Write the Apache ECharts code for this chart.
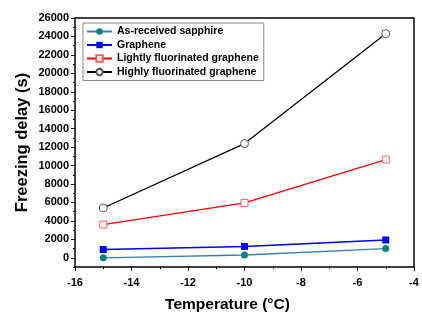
<!DOCTYPE html>
<html><head><meta charset="utf-8">
<script src="https://cdn.jsdelivr.net/npm/echarts@6/dist/echarts.min.js"></script>
<style>html,body{margin:0;padding:0;background:#fff}#c{width:422px;height:314px}</style>
</head><body><div id="c"></div>
<script>
var temperatures = [-15, -10, -5];
var sapphire = [0, 300, 1000];
var graphene = [900, 1230, 1930];
var lightlyF = [3600, 5950, 10650];
var highlyF = [5400, 12380, 24300];
var seriesNames = ['As-received sapphire', 'Graphene', 'Lightly fluorinated graphene', 'Highly fluorinated graphene'];
var yTicks = [0, 2000, 4000, 6000, 8000, 10000, 12000, 14000, 16000, 18000, 20000, 22000, 24000, 26000];
var xTicks = [-16, -14, -12, -10, -8, -6, -4];
var yMin = -1000;

function pairs(v){ return temperatures.map(function(t,i){ return [t, v[i]]; }); }
var font = 'Liberation Sans, Arial, sans-serif';
var W = 422, H = 314, gL = 75, gR = 8, gT = 18, gB = 47;
var yMax = yTicks[yTicks.length-1];
var pxPer = (H - gT - gB) / (yMax - yMin);
var gB2 = gB + (0 - yMin) * pxPer;

var chart = echarts.init(document.getElementById('c'), null, {renderer:'canvas'});
var lbl = {color:'#000',fontWeight:'bold',fontSize:11,fontFamily:font,formatter:function(v){return String(v);}};
var frame = {show:true,onZero:false,lineStyle:{color:'#000',width:1.5}};
chart.setOption({
  animation:false,
  backgroundColor:'#fff',
  grid:[
    {left:gL,right:gR,top:gT,bottom:gB,containLabel:false,outerBoundsMode:'none'},
    {left:gL,right:gR,top:gT,bottom:gB2,containLabel:false,outerBoundsMode:'none'}
  ],
  legend:{
    orient:'vertical',left:83,top:23,
    data:seriesNames,
    itemWidth:25,itemHeight:8,itemGap:2.5,
    padding:[3,5,3,3],
    borderColor:'#888',borderWidth:1,
    textStyle:{color:'#000',fontWeight:'bold',fontSize:10.5,fontFamily:font}
  },
  xAxis:[{
    gridIndex:0,type:'value',min:xTicks[0],max:xTicks[xTicks.length-1],interval:2,
    axisLine:frame,
    axisTick:{show:true,inside:false,length:4,lineStyle:{color:'#000',width:1}},
    minorTick:{show:true,splitNumber:2,length:2,lineStyle:{color:'#000',width:1}},
    splitLine:{show:false},
    axisLabel:Object.assign({},lbl,{margin:10}),
    name:'Temperature (°C)',nameLocation:'middle',nameGap:30,
    nameTextStyle:{color:'#000',fontWeight:'bold',fontSize:15.5,fontFamily:font,padding:[0,34,0,0]}
  },{
    gridIndex:0,type:'value',position:'top',min:-16,max:-4,
    axisLine:frame,axisTick:{show:false},axisLabel:{show:false},splitLine:{show:false}
  },{
    gridIndex:1,type:'value',min:-16,max:-4,show:false
  }],
  yAxis:[{
    gridIndex:0,type:'value',min:yMin,max:yMax,interval:1000,
    axisLine:frame,
    axisTick:{show:true,inside:false,length:2,lineStyle:{color:'#000',width:1}},
    axisLabel:{show:false},splitLine:{show:false},
    name:'Freezing delay (s)',nameLocation:'middle',nameGap:44,
    nameTextStyle:{color:'#000',fontWeight:'bold',fontSize:16.5,fontFamily:font}
  },{
    gridIndex:0,type:'value',position:'right',min:yMin,max:yMax,
    axisLine:frame,axisTick:{show:false},axisLabel:{show:false},splitLine:{show:false}
  },{
    gridIndex:1,type:'value',min:yTicks[0],max:yMax,interval:2000,
    axisLine:{show:false},
    axisTick:{show:true,inside:false,length:4,lineStyle:{color:'#000',width:1}},
    axisLabel:Object.assign({},lbl,{margin:6}),splitLine:{show:false}
  }],
  series:[
    {name:seriesNames[0],type:'line',xAxisIndex:0,yAxisIndex:0,data:pairs(sapphire),symbol:'circle',symbolSize:7,
     lineStyle:{color:'#3a7db5',width:1.3},itemStyle:{color:'#008080'}},
    {name:seriesNames[1],type:'line',xAxisIndex:0,yAxisIndex:0,data:pairs(graphene),symbol:'rect',symbolSize:7,
     lineStyle:{color:'#0000ff',width:1.5},itemStyle:{color:'#0000ff'}},
    {name:seriesNames[2],type:'line',xAxisIndex:0,yAxisIndex:0,data:pairs(lightlyF),symbol:'rect',symbolSize:7,
     lineStyle:{color:'#ff0000',width:1.3},itemStyle:{color:'#ffffff',borderColor:'#f06060',borderWidth:1}},
    {name:seriesNames[3],type:'line',xAxisIndex:0,yAxisIndex:0,data:pairs(highlyF),symbol:'circle',symbolSize:8,
     lineStyle:{color:'#000',width:1.3},itemStyle:{color:'#ffffff',borderColor:'#555',borderWidth:1}}
  ]
});
</script></body></html>
